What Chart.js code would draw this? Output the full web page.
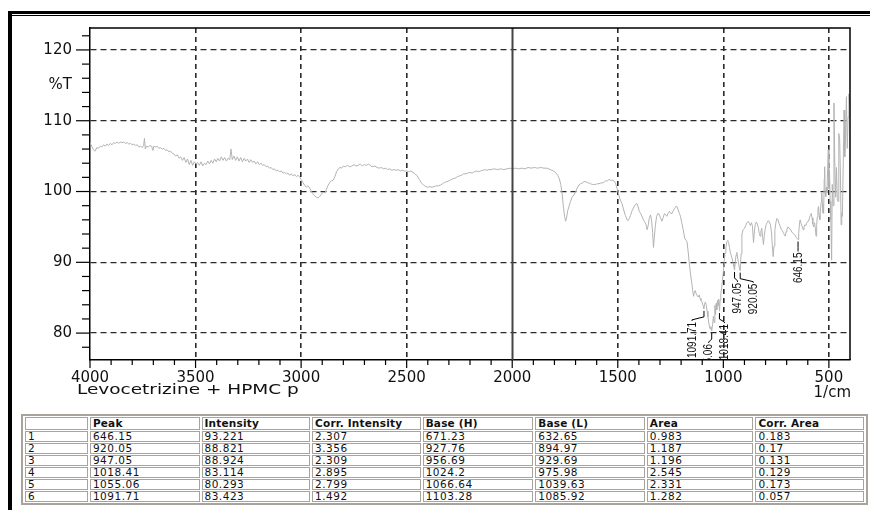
<!DOCTYPE html>
<html>
<head>
<meta charset="utf-8">
<script src="https://cdn.jsdelivr.net/npm/chart.js@4.4.0/dist/chart.umd.min.js"></script>
<style>
    html, body { margin: 0; padding: 0; background: #fff; }
    #page { position: relative; width: 870px; height: 510px; overflow: hidden; }
    #frame { position: absolute; left: 8px; top: 11px; width: 900px; height: 520px;
             border-top: 3px solid #000; border-left: 4px solid #000; }
    #frame-inner { position: absolute; left: 0; top: 1px; width: 900px; height: 520px;
                   border-top: 1px solid #000; }
    #chart-wrap { position: absolute; left: 0; top: 0; width: 870px; height: 405px; }
    #peak-table { position: absolute; left: 21px; top: 414px; width: 847px;
                  table-layout: fixed; border-collapse: separate; border-spacing: 2px 1px;
                  border: 2px solid #a8a49c; font: 10.5px 'DejaVu Sans', sans-serif; color: #111; }
    #peak-table td, #peak-table th { border: 1px solid #a8a49c; padding: 0 2px; height: 9px;
                  line-height: 9px; text-align: left; white-space: nowrap; overflow: visible;
                  letter-spacing: 0.5px; }
    #peak-table th { font-weight: bold; height: 11px; line-height: 11px; letter-spacing: 0.2px; }
</style>
</head>
<body>
<div id="page">
    <div id="frame"><div id="frame-inner"></div></div>
    <div id="chart-wrap"><canvas id="chart-ftir"></canvas></div>
    <table id="peak-table"></table>
</div>
<script>
// ─── Spectrum ───
const wavenumber = [
    4000, 3992, 3984, 3976, 3968, 3960, 3952, 3944, 3936, 3928,
    3920, 3912, 3904, 3896, 3888, 3880, 3872, 3864, 3856, 3848,
    3840, 3832, 3824, 3816, 3808, 3800, 3792, 3784, 3776, 3768,
    3760, 3752, 3746, 3742, 3738, 3732, 3724, 3716, 3708, 3702,
    3698, 3690, 3682, 3674, 3666, 3658, 3650, 3642, 3634, 3626,
    3618, 3610, 3602, 3594, 3586, 3578, 3570, 3562, 3554, 3546,
    3538, 3530, 3522, 3514, 3506, 3498, 3490, 3482, 3474, 3466,
    3458, 3450, 3442, 3434, 3426, 3418, 3410, 3402, 3394, 3386,
    3378, 3370, 3362, 3354, 3346, 3338, 3332, 3326, 3318, 3310,
    3302, 3294, 3286, 3278, 3270, 3262, 3254, 3246, 3238, 3230,
    3222, 3214, 3206, 3198, 3190, 3182, 3174, 3166, 3158, 3150,
    3142, 3134, 3126, 3118, 3110, 3102, 3094, 3086, 3078, 3070,
    3062, 3054, 3046, 3038, 3030, 3022, 3014, 3006, 3000, 2992,
    2984, 2976, 2968, 2960, 2952, 2944, 2936, 2928, 2920, 2912,
    2904, 2896, 2888, 2880, 2872, 2864, 2856, 2848, 2840, 2832,
    2824, 2816, 2808, 2800, 2790, 2780, 2770, 2760, 2750, 2740,
    2730, 2720, 2710, 2700, 2690, 2680, 2670, 2660, 2650, 2640,
    2630, 2620, 2610, 2600, 2590, 2580, 2570, 2560, 2550, 2540,
    2530, 2520, 2510, 2500, 2490, 2480, 2470, 2460, 2450, 2440,
    2430, 2420, 2410, 2400, 2390, 2380, 2370, 2360, 2350, 2340,
    2330, 2320, 2310, 2300, 2290, 2280, 2270, 2260, 2250, 2240,
    2230, 2220, 2210, 2200, 2190, 2180, 2170, 2160, 2150, 2140,
    2130, 2120, 2110, 2100, 2085, 2070, 2055, 2040, 2025, 2010,
    2000, 1985, 1970, 1955, 1940, 1925, 1910, 1895, 1880, 1865,
    1850, 1835, 1820, 1805, 1795, 1785, 1777, 1770, 1764, 1758,
    1752, 1747, 1742, 1737, 1731, 1724, 1716, 1708, 1700, 1692,
    1684, 1676, 1668, 1660, 1653, 1645, 1637, 1629, 1621, 1613,
    1605, 1597, 1589, 1581, 1574, 1566, 1558, 1550, 1542, 1534,
    1526, 1518, 1511, 1503, 1496, 1488, 1480, 1472, 1464, 1456,
    1451, 1445, 1440, 1432, 1424, 1416, 1409, 1404, 1398, 1390,
    1384, 1377, 1370, 1366, 1361, 1356, 1351, 1345, 1340, 1335,
    1331, 1327, 1322, 1316, 1310, 1304, 1298, 1291, 1285, 1279,
    1273, 1267, 1261, 1255, 1249, 1243, 1237, 1231, 1225, 1220,
    1214, 1208, 1203, 1197, 1190, 1183, 1176, 1172, 1167, 1162,
    1156, 1150, 1145, 1141, 1137, 1133, 1129, 1124, 1119, 1114,
    1110, 1106, 1102, 1097, 1092, 1089, 1085, 1081, 1077, 1073,
    1068, 1063, 1059, 1055, 1051, 1047, 1044, 1040, 1037, 1034,
    1031, 1028, 1025, 1022, 1018, 1015, 1012, 1008, 1004, 1000,
    996, 992, 988, 984, 979, 975, 971, 967, 963, 958,
    954, 950, 947, 944, 940, 936, 932, 928, 924, 920,
    916, 912, 906, 900, 894, 888, 882, 877, 872, 867,
    862, 857, 853, 849, 844, 839, 834, 830, 826, 822,
    818, 814, 810, 806, 802, 797, 792, 787, 782, 777,
    772, 768, 764, 760, 756, 751, 746, 741, 736, 731,
    726, 721, 716, 711, 707, 703, 699, 694, 689, 684,
    679, 674, 669, 664, 659, 654, 649, 646, 643, 639,
    636, 632, 627, 622, 618, 614, 609, 604, 600, 596,
    592, 588, 584, 580, 576, 572, 568, 564, 561, 558,
    555, 552, 549, 546, 543, 540, 537, 534, 531, 528,
    525, 522, 520, 518, 515, 512, 509, 506, 503, 500,
    497, 494, 491, 487, 484, 480, 476, 472, 468, 464,
    460, 456, 453, 449, 445, 442, 439, 436, 432, 428,
    425, 421, 417, 413, 409, 405, 402, 400
];
const transmittance = [
    106.9, 106.4, 105.9, 105.7, 106.2, 106.1, 106.4, 106.3, 106.6, 106.4,
    106.7, 106.5, 106.8, 106.6, 106.9, 106.8, 107.0, 106.8, 107.0, 106.9,
    107.0, 106.8, 106.9, 106.7, 106.8, 106.6, 106.7, 106.5, 106.6, 106.3,
    106.4, 106.2, 106.5, 107.5, 106.0, 106.4, 106.3, 106.5, 106.4, 105.8,
    106.4, 106.3, 106.4, 106.1, 106.2, 106.0, 106.1, 105.8, 105.9, 105.6,
    105.7, 105.4, 105.3, 105.0, 105.2, 104.7, 104.9, 104.4, 104.8, 104.1,
    104.6, 103.8, 104.4, 103.7, 104.2, 103.9, 104.1, 103.7, 104.2, 103.6,
    104.0, 103.8, 104.3, 103.9, 104.4, 104.0, 104.6, 104.2, 104.7, 104.3,
    104.9, 104.4, 104.8, 104.3, 104.7, 104.5, 106.0, 104.5, 105.0, 104.4,
    104.9, 104.3, 104.8, 104.2, 104.7, 104.3, 104.6, 104.1, 104.5, 104.1,
    104.3, 103.9, 104.2, 103.8, 104.0, 103.7, 103.8, 103.5, 103.6, 103.3,
    103.4, 103.1, 103.2, 102.9, 103.0, 102.8, 102.9, 102.6, 102.7, 102.5,
    102.6, 102.3, 102.5, 102.2, 102.4, 102.1, 102.3, 102.0, 101.7, 101.3,
    100.9, 100.6, 100.8, 100.5, 100.1, 99.7, 99.4, 99.2, 99.1, 99.3,
    99.6, 99.9, 99.8, 100.3, 100.9, 101.3, 101.5, 101.6, 102.1, 102.8,
    103.2, 103.4, 103.3, 103.6, 103.5, 103.7, 103.5, 103.6, 103.8, 103.6,
    103.7, 103.9, 103.6, 103.8, 103.7, 103.9, 103.6, 103.5, 103.6, 103.4,
    103.3, 103.4, 103.2, 103.3, 103.1, 103.2, 103.0, 103.1, 103.0, 103.1,
    102.9, 103.0, 102.9, 102.9, 102.8, 102.9, 102.7, 102.5, 102.2, 101.7,
    101.2, 100.9, 100.7, 100.6, 100.7, 100.6, 100.7, 100.8, 100.8, 100.9,
    101.1, 101.3, 101.4, 101.5, 101.7, 101.8, 101.9, 102.1, 102.2, 102.3,
    102.5, 102.5, 102.6, 102.7, 102.6, 102.8, 102.9, 102.8, 102.9, 103.0,
    103.1, 103.0, 103.1, 103.1, 103.2, 103.1, 103.2, 103.1, 103.2, 103.3,
    103.2, 103.3, 103.2, 103.3, 103.2, 103.4, 103.3, 103.4, 103.3, 103.4,
    103.3, 103.3, 103.1, 102.9, 102.7, 102.3, 101.8, 101.0, 99.8, 98.0,
    96.5, 95.8, 96.4, 97.3, 97.9, 98.6, 99.2, 99.5, 99.9, 100.5,
    100.9, 101.1, 101.2, 101.4, 101.4, 101.3, 101.2, 101.1, 101.0, 101.0,
    101.0, 101.1, 101.1, 101.2, 101.2, 101.3, 101.5, 101.5, 101.7, 101.6,
    101.6, 101.5, 101.2, 100.4, 99.6, 98.8, 98.3, 97.4, 96.6, 96.0,
    95.9, 96.2, 96.6, 97.3, 97.8, 98.2, 98.3, 97.9, 97.2, 96.8,
    96.4, 95.9, 95.6, 95.3, 94.6, 95.2, 96.2, 96.7, 96.0, 94.2,
    92.1, 93.5, 95.2, 96.5, 96.9, 96.8, 96.3, 95.8, 96.3, 96.9,
    96.7, 96.5, 97.0, 97.2, 96.9, 96.9, 97.3, 97.6, 97.9, 97.9,
    97.4, 96.9, 96.5, 95.6, 94.6, 93.4, 93.1, 92.9, 91.6, 90.1,
    88.5, 87.2, 86.0, 85.2, 85.8, 86.0, 85.6, 85.3, 85.1, 85.4,
    84.9, 84.6, 84.5, 84.0, 83.4, 84.1, 84.4, 84.0, 83.1, 82.3,
    81.3, 80.6, 80.9, 80.3, 81.2, 82.4, 81.5, 83.9, 82.6, 84.2,
    83.3, 84.6, 83.9, 84.8, 83.1, 84.7, 85.6, 86.4, 87.5, 88.6,
    90.1, 91.3, 92.0, 92.9, 93.1, 92.8, 92.1, 91.4, 91.0, 90.5,
    89.9, 89.4, 88.9, 89.8, 91.0, 91.4, 90.6, 89.9, 89.2, 88.8,
    91.2, 94.0, 94.6, 94.8, 95.2, 95.6, 95.8, 95.5, 95.2, 95.6,
    95.1, 92.8, 94.3, 95.3, 95.7, 95.4, 94.9, 94.1, 93.7, 94.4,
    94.8, 93.6, 92.5, 93.8, 94.6, 95.4, 95.6, 95.9, 95.7, 95.3,
    94.3, 92.4, 90.8, 92.3, 94.5, 95.6, 96.2, 96.0, 95.5, 95.1,
    94.7, 94.5, 94.2, 93.9, 93.7, 94.3, 94.6, 95.0, 94.8, 94.7,
    94.5, 94.2, 94.1, 93.9, 93.8, 93.5, 93.3, 93.2, 94.1, 95.6,
    96.0, 95.5, 95.1, 94.6, 95.0, 95.3, 95.2, 95.6, 95.8, 95.8,
    96.3, 96.6, 96.9, 96.3, 95.4, 95.0, 95.6, 94.8, 93.7, 95.2,
    96.4, 97.5, 97.9, 96.6, 96.0, 97.2, 98.5, 99.8, 98.3, 97.0,
    96.9, 101.8, 103.5, 99.8, 99.3, 100.6, 99.8, 103.2, 105.9, 100.4,
    103.0, 98.6, 96.0, 90.3, 101.0, 98.0, 112.5, 104.0, 99.2, 103.4,
    98.8, 98.6, 108.2, 107.5, 101.8, 95.3, 97.0, 96.5, 104.0, 111.5,
    104.9, 108.0, 113.4, 106.1, 110.5, 113.8, 112.2, 113.0
];

// ─── Peak table ───
const peakPos       = [646.15, 920.05, 947.05, 1018.41, 1055.06, 1091.71];
const peakIntensity = [93.221, 88.821, 88.924, 83.114, 80.293, 83.423];
const corrIntensity = ['2.307', '3.356', '2.309', '2.895', '2.799', '1.492'];
const baseH         = ['671.23', '927.76', '956.69', '1024.2', '1066.64', '1103.28'];
const baseL         = ['632.65', '894.97', '929.69', '975.98', '1039.63', '1085.92'];
const area          = ['0.983', '1.187', '1.196', '2.545', '2.331', '1.282'];
const corrArea      = ['0.183', '0.17', '0.131', '0.129', '0.173', '0.057'];
const tableHeaders  = ['', 'Peak', 'Intensity', 'Corr. Intensity', 'Base (H)', 'Base (L)', 'Area', 'Corr. Area'];

// ─── Axes ───
const xTickLabels = [4000, 3500, 3000, 2500, 2000, 1500, 1000, 500];
const yTickLabels = [80, 90, 100, 110, 120];
const sampleName = 'Levocetrizine + HPMC p';
const xUnit = '1/cm';
const yUnit = '%T';

// label shift sideways so the rotated peak texts do not collide (px)
const labelShift = [0, 13, 3, 5, -3, -12];
const colWidths = [62, 108, 107, 107, 109, 108, 105, 107];

const FONT = "'DejaVu Sans', sans-serif";

function buildTable() {
    const table = document.getElementById('peak-table');
    let html = '<colgroup>' + colWidths.map(w => `<col style="width:${w}px">`).join('') + '</colgroup>';
    html += '<tr>' + tableHeaders.map(h => `<th>${h}</th>`).join('') + '</tr>';
    peakPos.forEach((p, i) => {
        const cells = [i + 1, p.toFixed(2), peakIntensity[i].toFixed(3), corrIntensity[i],
                       baseH[i], baseL[i], area[i], corrArea[i]];
        html += '<tr>' + cells.map(c => `<td>${c}</td>`).join('') + '</tr>';
    });
    table.innerHTML = html;
}

// ─── Frame, ticks, peak labels ───
const spectrumDecor = {
    id: 'spectrumDecor',
    afterDatasetsDraw(chart) {
        const { ctx, chartArea: a, scales: { x, y } } = chart;

        // solid line at 2000
        ctx.save();
        ctx.strokeStyle = '#444';
        ctx.lineWidth = 2;
        const x2000 = Math.round(x.getPixelForValue(2000)) + 0.5;
        ctx.beginPath();
        ctx.moveTo(x2000, a.top);
        ctx.lineTo(x2000, a.bottom);
        ctx.stroke();

        // plot box top / right
        ctx.strokeStyle = '#000';
        ctx.lineWidth = 1.5;
        ctx.beginPath();
        ctx.moveTo(a.left, a.top);
        ctx.lineTo(a.right, a.top);
        ctx.lineTo(a.right, a.bottom);
        ctx.stroke();

        // tick marks
        ctx.lineWidth = 1.2;
        x.ticks.forEach(t => {
            const px = x.getPixelForValue(t.value);
            const len = xTickLabels.includes(t.value) ? 8 : 5;
            ctx.beginPath();
            ctx.moveTo(px, a.bottom);
            ctx.lineTo(px, a.bottom + len);
            ctx.stroke();
        });
        y.ticks.forEach(t => {
            if (t.value % 2 !== 0) return;
            const py = y.getPixelForValue(t.value);
            const len = yTickLabels.includes(t.value) ? 14 : 8;
            ctx.beginPath();
            ctx.moveTo(a.left - len, py);
            ctx.lineTo(a.left, py);
            ctx.stroke();
        });

        // axis captions
        ctx.fillStyle = '#111';
        ctx.font = `15px ${FONT}`;
        ctx.textAlign = 'right';
        ctx.textBaseline = 'alphabetic';
        ctx.fillText(xUnit, a.right + 1, a.bottom + 37);
        ctx.save();
        ctx.translate(a.left - 13, a.bottom + 34);
        ctx.scale(1.32, 1);
        ctx.font = `14px ${FONT}`;
        ctx.textAlign = 'left';
        ctx.fillText(sampleName, 0, 0);
        ctx.restore();

        // peak labels, clipped to the plot box
        ctx.save();
        ctx.beginPath();
        ctx.rect(a.left, a.top, a.right - a.left, a.bottom - a.top);
        ctx.clip();
        ctx.strokeStyle = '#000';
        ctx.lineWidth = 1;
        ctx.font = "10px 'Liberation Sans', Arial, sans-serif";
        peakPos.forEach((p, i) => {
            const px = x.getPixelForValue(p);
            const py = y.getPixelForValue(peakIntensity[i]);
            const tx = px + labelShift[i];
            ctx.beginPath();
            ctx.moveTo(px, py + 2);
            ctx.lineTo(px, py + 8);
            ctx.lineTo(tx, py + 11);
            ctx.lineTo(tx, py + 12);
            ctx.stroke();
            ctx.save();
            ctx.translate(tx, py + 13);
            ctx.rotate(-Math.PI / 2);
            ctx.scale(1, 1.3);
            ctx.textAlign = 'right';
            ctx.textBaseline = 'middle';
            ctx.fillText(p.toFixed(2), 0, 0);
            ctx.restore();
        });
        ctx.restore();
        ctx.restore();
    }
};

function renderSpectrum() {
    const canvas = document.getElementById('chart-ftir');
    const points = wavenumber.map((w, i) => ({ x: w, y: transmittance[i] }));

    new Chart(canvas, {
        type: 'line',
        data: {
            datasets: [{
                label: sampleName,
                data: points,
                borderColor: '#b3b3b3',
                borderWidth: 1,
                pointRadius: 0,
                tension: 0,
                fill: false
            }]
        },
        options: {
            responsive: true,
            maintainAspectRatio: false,
            animation: false,
            layout: { padding: { top: 28, right: 20, left: 0, bottom: 0 } },
            plugins: { legend: { display: false }, tooltip: { enabled: false } },
            scales: {
                x: {
                    type: 'linear',
                    reverse: true,
                    min: 400,
                    max: 4000,
                    afterBuildTicks: s => {
                        const ticks = [];
                        for (let v = 500; v <= 4000; v += 100) ticks.push({ value: v });
                        s.ticks = ticks;
                    },
                    afterFit: s => { s.height = 45; },
                    grid: {
                        drawTicks: false,
                        lineWidth: 1.6,
                        color: c => (c.tick && xTickLabels.includes(c.tick.value) &&
                                     c.tick.value !== 4000 && c.tick.value !== 2000)
                                     ? '#2a2a2a' : 'rgba(0,0,0,0)'
                    },
                    border: { display: true, color: '#000', width: 1.5, dash: [5, 4] },
                    ticks: {
                        autoSkip: false,
                        maxRotation: 0,
                        padding: 9,
                        color: '#111',
                        font: { family: FONT, size: 15 },
                        callback: v => xTickLabels.includes(v) ? String(v) : ''
                    }
                },
                y: {
                    min: 76.2,
                    max: 123.1,
                    afterBuildTicks: s => {
                        const ticks = [];
                        for (let v = 78; v <= 122; v += 2) {
                            ticks.push({ value: v });
                            if (v === 114) ticks.push({ value: 115 });
                        }
                        s.ticks = ticks;
                    },
                    afterFit: s => { s.width = 90; },
                    grid: {
                        drawTicks: false,
                        lineWidth: 1.3,
                        color: c => (c.tick && yTickLabels.includes(c.tick.value))
                                     ? '#2a2a2a' : 'rgba(0,0,0,0)'
                    },
                    border: { display: true, color: '#000', width: 1.5, dash: [6, 4] },
                    ticks: {
                        autoSkip: false,
                        padding: 18,
                        color: '#111',
                        font: { family: FONT, size: 15 },
                        callback: v => yTickLabels.includes(v) ? String(v) : (v === 115 ? yUnit : '')
                    }
                }
            }
        },
        plugins: [spectrumDecor]
    });
}

buildTable();
renderSpectrum();
</script>
</body>
</html>
